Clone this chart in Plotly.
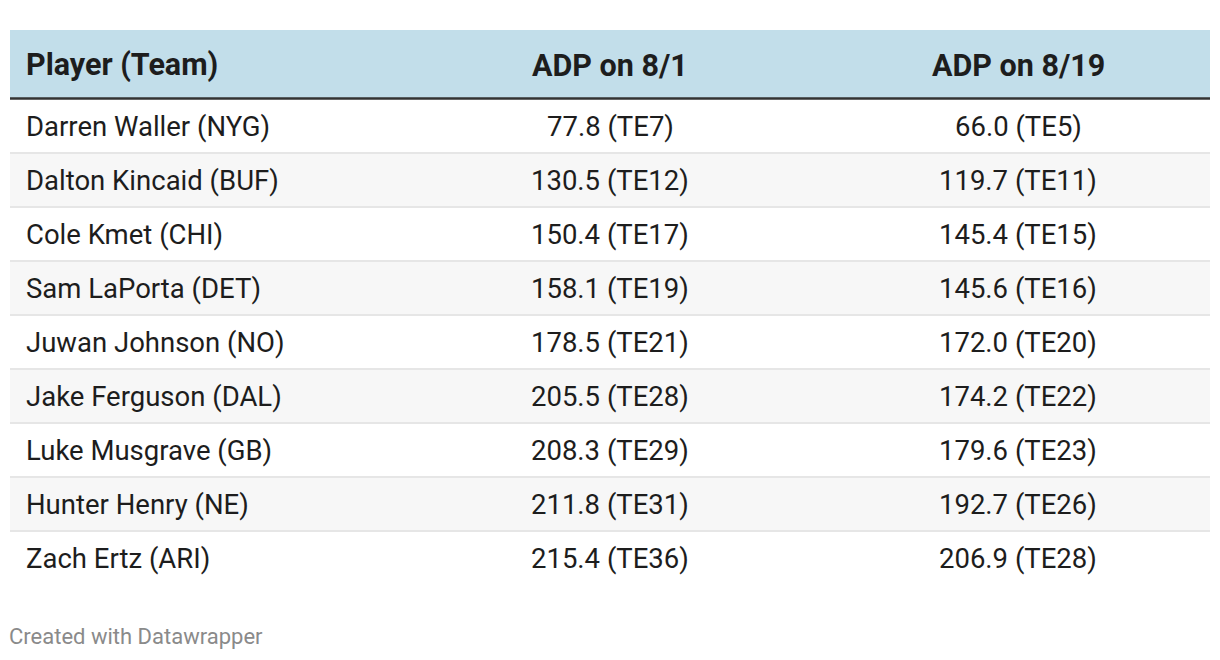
'''
    ADP table for tight ends, redrawn as a Datawrapper-style table.
    Cells are drawn with shapes and annotations on hidden pixel axes.
'''

import plotly.graph_objects as go

WIDTH, HEIGHT = 1220, 660

columns = ["Player (Team)", "ADP on 8/1", "ADP on 8/19"]
players = [
    "Darren Waller (NYG)",
    "Dalton Kincaid (BUF)",
    "Cole Kmet (CHI)",
    "Sam LaPorta (DET)",
    "Juwan Johnson (NO)",
    "Jake Ferguson (DAL)",
    "Luke Musgrave (GB)",
    "Hunter Henry (NE)",
    "Zach Ertz (ARI)",
]
adp_aug1 = ["77.8 (TE7)", "130.5 (TE12)", "150.4 (TE17)", "158.1 (TE19)", "178.5 (TE21)",
            "205.5 (TE28)", "208.3 (TE29)", "211.8 (TE31)", "215.4 (TE36)"]
adp_aug19 = ["66.0 (TE5)", "119.7 (TE11)", "145.4 (TE15)", "145.6 (TE16)", "172.0 (TE20)",
             "174.2 (TE22)", "179.6 (TE23)", "192.7 (TE26)", "206.9 (TE28)"]
footer = "Created with Datawrapper"

# layout of the table, in pixels
LEFT, RIGHT = 10, 1210
HEAD_TOP, HEAD_BOTTOM = 30, 98
ROW_H = 54
COL_X = [24, 610, 1018]
FONT = "Roboto, Arial, sans-serif"
TEXT = "#1d1d1d"


def row_top(i):
    return HEAD_BOTTOM + 2 + i * ROW_H


fig = go.Figure()

shapes = []
annotations = []

# header
shapes.append(dict(type="rect", x0=LEFT, x1=RIGHT, y0=HEAD_TOP, y1=HEAD_BOTTOM,
                   xref="x", yref="y", fillcolor="#c2deea", line_width=0, layer="below"))
shapes.append(dict(type="line", x0=LEFT, x1=RIGHT, y0=HEAD_BOTTOM + 0.5, y1=HEAD_BOTTOM + 0.5,
                   xref="x", yref="y", line=dict(color="#333333", width=2.5)))
for j, name in enumerate(columns):
    annotations.append(dict(x=COL_X[j], y=(HEAD_TOP + HEAD_BOTTOM) / 2 + 1, text="<b>%s</b>" % name,
                            xanchor="left" if j == 0 else "center", yanchor="middle",
                            showarrow=False, font=dict(family=FONT, size=30.5, color=TEXT)))

# body rows
for i in range(len(players)):
    top = row_top(i)
    if i % 2 == 1:
        shapes.append(dict(type="rect", x0=LEFT, x1=RIGHT, y0=top, y1=top + ROW_H - 2,
                           xref="x", yref="y", fillcolor="#f7f7f7", line_width=0, layer="below"))
    if i < len(players) - 1:
        shapes.append(dict(type="line", x0=LEFT, x1=RIGHT, y0=top + ROW_H - 1, y1=top + ROW_H - 1,
                           xref="x", yref="y", line=dict(color="#e6e6e6", width=2)))
    mid = top + (ROW_H - 2) / 2
    for j, val in enumerate([players[i], adp_aug1[i], adp_aug19[i]]):
        annotations.append(dict(x=COL_X[j], y=mid, text=val,
                                xanchor="left" if j == 0 else "center", yanchor="middle",
                                showarrow=False, font=dict(family=FONT, size=27.5, color=TEXT)))

annotations.append(dict(x=LEFT - 3, y=636, text=footer, xanchor="left", yanchor="middle",
                        showarrow=False, font=dict(family=FONT, size=22, color="#8a8a8a")))

fig.update_layout(
    width=WIDTH, height=HEIGHT, autosize=False,
    margin=dict(l=0, r=0, t=0, b=0),
    paper_bgcolor="white", plot_bgcolor="white",
    xaxis=dict(range=[0, WIDTH], visible=False, fixedrange=True),
    yaxis=dict(range=[HEIGHT, 0], visible=False, fixedrange=True),
    shapes=shapes, annotations=annotations,
    showlegend=False, dragmode=False,
)

# drop the default page margin so the table sits where it does in the original
fig.write_html("out.html", config={"displayModeBar": False},
               post_script="document.body.style.margin = '0';")
